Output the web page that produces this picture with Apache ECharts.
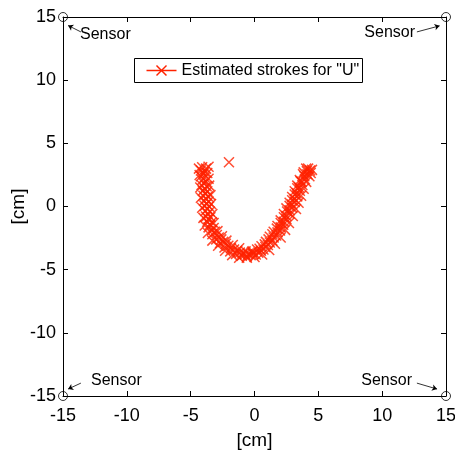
<!DOCTYPE html>
<html><head><meta charset="utf-8">
<script src="https://cdn.jsdelivr.net/npm/echarts@6/dist/echarts.min.js"></script>
<style>html,body{margin:0;padding:0;background:#fff}#c{width:455px;height:456px}</style>
</head><body><div id="c"></div>
<script>
// Estimated stroke points (cm)
const strokeX = [-4.1,-3.8,-4.2,-3.9,-4.0,-3.7,-4.2,-3.9,-4.1,-3.8,-3.95,-4.15,-3.75,-3.9,-4.05,-3.7,-3.85,-4.0,-3.65,-3.8,-3.95,-3.6,-3.75,-3.9,-3.55,-3.7,-3.85,-3.5,-3.65,-3.8,-3.45,-3.6,-3.7,-3.35,-3.5,-3.6,-3.2,-3.35,-3.1,-3.3,-2.95,-2.8,-3.0,-2.6,-2.45,-2.7,-2.25,-2.05,-2.35,-1.85,-1.6,-1.9,-1.35,-1.15,-1.45,-0.95,-0.75,-1.0,-0.5,-0.3,-0.6,-0.1,0.1,-0.2,0.3,0.5,0.2,0.7,0.85,0.55,1.05,1.2,0.9,1.4,1.5,1.2,1.7,1.8,1.5,2.0,2.05,1.8,2.25,2.3,2.05,2.5,2.5,2.3,2.75,2.75,2.5,2.95,2.95,2.75,3.15,3.15,2.95,3.35,3.3,3.15,3.55,3.5,3.35,3.75,3.7,3.55,3.95,3.9,3.8,4.15,4.1,4.35,4.2,4.4,-2.0,
  -4.35,-3.6,-4.3,-3.6,-4.25,-3.55,-4.2,-3.45,-4.1,-3.4,-4.0,-3.3,-3.9,-3.2,-3.65,-2.9,-3.3,-2.55,-2.85,-2.2,-2.3,-1.7,-1.75,-1.2,-1.2,-0.7,-0.6,-0.15,0.0,0.4,0.6,0.8,1.15,1.1,1.6,1.4,2.05,1.75,2.4,2.05,2.7,2.3,3.0,2.55,3.25,2.75,3.45,2.95,3.65,3.15,3.85,3.35,4.05,3.6,4.3,3.85,4.5,4.05];
const strokeY = [3.1,3.0,2.85,2.75,2.6,2.65,2.4,2.3,2.1,2.0,1.8,1.7,1.6,1.4,1.25,1.2,1.0,0.85,0.8,0.6,0.45,0.4,0.2,0.05,0.0,-0.2,-0.35,-0.4,-0.6,-0.8,-0.85,-1.0,-1.2,-1.25,-1.45,-1.65,-1.7,-1.9,-2.0,-2.2,-2.25,-2.45,-2.6,-2.6,-2.8,-2.9,-2.95,-3.1,-3.25,-3.3,-3.4,-3.55,-3.5,-3.65,-3.75,-3.7,-3.8,-3.9,-3.75,-3.85,-3.95,-3.75,-3.8,-3.6,-3.65,-3.5,-3.4,-3.4,-3.2,-3.15,-3.05,-2.85,-2.8,-2.7,-2.45,-2.4,-2.3,-2.05,-2.0,-1.9,-1.65,-1.55,-1.45,-1.2,-1.1,-1.0,-0.75,-0.6,-0.55,-0.3,-0.15,-0.1,0.15,0.3,0.35,0.6,0.75,0.8,1.05,1.2,1.25,1.5,1.65,1.7,1.95,2.1,2.15,2.4,2.55,2.55,2.8,2.85,3.0,2.65,3.5,
  3.0,3.15,2.5,2.2,1.5,1.65,0.7,0.9,-0.1,0.2,-0.9,-0.6,-1.5,-1.3,-2.1,-1.95,-2.7,-2.35,-3.1,-2.7,-3.5,-3.05,-3.85,-3.3,-4.05,-3.55,-4.05,-3.55,-4.0,-3.35,-3.8,-3.0,-3.45,-2.6,-2.95,-2.2,-2.45,-1.75,-1.85,-1.3,-1.3,-0.85,-0.75,-0.4,-0.2,0.05,0.3,0.5,0.85,0.95,1.4,1.45,1.95,2.0,2.4,2.7,2.9,3.0];
// Sensor positions (cm)
const sensorX = [-15, 15, -15, 15];
const sensorY = [15, 15, -15, -15];
// Axis ticks
const xTicks = {min: -15, max: 15, interval: 5};
const yTicks = {min: -15, max: 15, interval: 5};
const legendLabel = 'Estimated strokes for "U"';
const sensorLabel = 'Sensor';
// Annotation anchors (data units): text centre, arrow start, arrow end
const notes = [
  {text: [-11.68, 13.58], from: [-13.6, 13.82], to: [-14.6, 14.33]},
  {text: [10.59, 13.74], from: [12.72, 13.82], to: [14.5, 14.3]},
  {text: [-10.82, -13.82], from: [-13.6, -13.98], to: [-14.6, -14.45]},
  {text: [10.35, -13.82], from: [12.72, -13.98], to: [14.3, -14.45]}
];

const RED = '#ff2200';
const FONT = '"Liberation Sans", Arial, Helvetica, sans-serif';
const chart = echarts.init(document.getElementById('c'));
const strokeData = strokeX.map((x, i) => [x, strokeY[i]]);
const sensorData = sensorX.map((x, i) => [x, sensorY[i]]);
const XPATH = 'path://M0,0L10,10M0,10L10,0';

const axisCommon = {
  type: 'value', splitLine: {show: false},
  axisLine: {show: true, onZero: false, lineStyle: {color: '#000', width: 1}},
  axisTick: {show: true, inside: true, length: 5, lineStyle: {color: '#000'}}
};

chart.setOption({
  animation: false,
  backgroundColor: '#fff',
  grid: {left: 63, right: 9, top: 17, bottom: 60, containLabel: false, outerBoundsMode: 'none'},
  xAxis: [
    Object.assign({}, axisCommon, xTicks, {position: 'bottom',
      name: '[cm]', nameLocation: 'middle', nameGap: 35, nameMoveOverlap: false,
      nameTextStyle: {fontFamily: FONT, fontSize: 19, color: '#000'},
      axisLabel: {fontFamily: FONT, fontSize: 18, color: '#000', margin: 11}}),
    Object.assign({}, axisCommon, xTicks, {position: 'top', axisLabel: {show: false}})
  ],
  yAxis: [
    Object.assign({}, axisCommon, yTicks, {position: 'left',
      name: '[cm]', nameLocation: 'middle', nameGap: 35, nameMoveOverlap: false,
      nameTextStyle: {fontFamily: FONT, fontSize: 19, color: '#000'},
      axisLabel: {fontFamily: FONT, fontSize: 18, color: '#000', margin: 7}}),
    Object.assign({}, axisCommon, yTicks, {position: 'right', axisLabel: {show: false}})
  ],
  series: [
    {
      type: 'scatter', name: legendLabel, data: strokeData,
      symbol: XPATH, symbolSize: 10, clip: false,
      itemStyle: {color: 'none', borderColor: RED, borderWidth: 1.5},
      emphasis: {disabled: true}, z: 3
    },
    {
      type: 'scatter', name: 'sensors', data: sensorData,
      symbol: 'circle', symbolSize: 9, clip: false,
      itemStyle: {color: 'none', borderColor: '#000', borderWidth: 1},
      emphasis: {disabled: true}, z: 5,
      markLine: {
        silent: true, symbol: ['none', 'arrow'], symbolSize: 5,
        lineStyle: {color: '#000', width: 0.8, type: 'solid'},
        label: {show: false},
        data: notes.map(n => [{coord: n.from}, {coord: n.to}])
      }
    }
  ]
});

// Sensor labels and legend box
const gfx = notes.map(n => {
  const p = chart.convertToPixel({gridIndex: 0}, n.text);
  return {type: 'text', x: p[0], y: p[1],
    style: {text: sensorLabel, font: '16px ' + FONT, fill: '#000', align: 'center', verticalAlign: 'middle'}};
});
gfx.push({type: 'group', left: 134, top: 58, children: [
  {type: 'rect', shape: {x: 0, y: 0, width: 228, height: 24}, style: {fill: '#fff', stroke: '#000', lineWidth: 1}},
  {type: 'line', shape: {x1: 12, y1: 12, x2: 42, y2: 12}, style: {stroke: RED, lineWidth: 1.5}},
  {type: 'line', shape: {x1: 22, y1: 7, x2: 32, y2: 17}, style: {stroke: RED, lineWidth: 1.5}},
  {type: 'line', shape: {x1: 22, y1: 17, x2: 32, y2: 7}, style: {stroke: RED, lineWidth: 1.5}},
  {type: 'text', x: 47, y: 12, style: {text: legendLabel, font: '16px ' + FONT, fill: '#000', verticalAlign: 'middle'}}
]});
chart.setOption({graphic: gfx});
</script></body></html>
